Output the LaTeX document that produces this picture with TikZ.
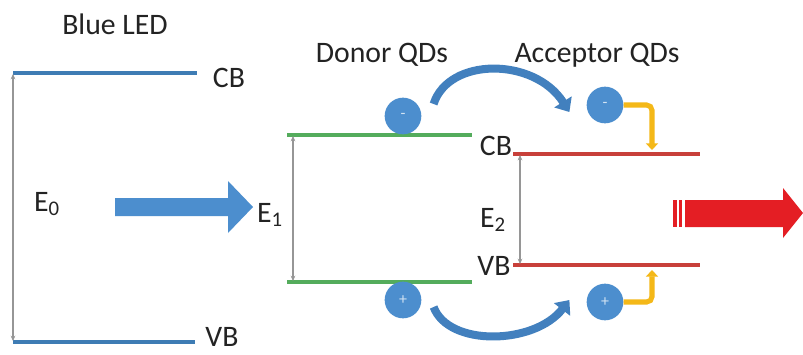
\documentclass[tikz,border=0pt]{standalone}
\usepackage{fontspec}
\setmainfont{Carlito}
\usetikzlibrary{arrows.meta}
\definecolor{ledblue}{RGB}{62,124,180}
\definecolor{qdblue}{RGB}{76,142,206}
\definecolor{hopblue}{RGB}{66,128,190}
\definecolor{donorgreen}{RGB}{84,172,92}
\definecolor{acceptred}{RGB}{200,64,58}
\definecolor{emitred}{RGB}{228,30,36}
\definecolor{relaxyellow}{RGB}{244,184,24}
\definecolor{gapgray}{RGB}{150,150,150}
\definecolor{txtgray}{RGB}{35,35,35}
\tikzstyle{txt} = [inner sep=0pt, anchor=base, text=txtgray, font=\fontsize{22.3}{26}\selectfont]
\tikzstyle{carrier} = [circle, fill=qdblue, minimum size=27.5pt, inner sep=0pt, text=white!75!qdblue, font=\fontsize{12}{12}\selectfont]
\tikzstyle{band} = [line width=2.4pt]
\tikzstyle{gap} = [gapgray, line width=0.8pt, {Stealth[length=4pt,width=3.5pt]}-{Stealth[length=4pt,width=3.5pt]}]
\tikzstyle{hop} = [hopblue, line width=6pt, -{Triangle[width=15pt,length=9pt]}]
\tikzstyle{relax} = [relaxyellow, line width=3.8pt, rounded corners=4pt, -{Triangle[width=9pt,length=5pt]}]

\begin{document}
\begin{tikzpicture}[x=0.75pt, y=-0.75pt]
\path[use as bounding box, fill=white] (0,0) rectangle (803,354);

% band edges
\coordinate (cb0l) at (13,73);
\coordinate (cb0r) at (197,73);
\coordinate (vb0l) at (13,342);
\coordinate (vb0r) at (195,342);
\coordinate (cb1l) at (287,135);
\coordinate (cb1r) at (472,135);
\coordinate (vb1l) at (287,282);
\coordinate (vb1r) at (472,282);
\coordinate (cb2l) at (513,154);
\coordinate (cb2r) at (700,154);
\coordinate (vb2l) at (513,265);
\coordinate (vb2r) at (700,265);

\draw [band, ledblue] (cb0l) -- (cb0r);
\draw [band, ledblue] (vb0l) -- (vb0r);
\draw [band, donorgreen] (cb1l) -- (cb1r);
\draw [band, donorgreen] (vb1l) -- (vb1r);
\draw [band, acceptred] (cb2l) -- (cb2r);
\draw [band, acceptred] (vb2l) -- (vb2r);

% gaps
\coordinate (g0t) at (13,74);
\coordinate (g0b) at (13,341);
\coordinate (g1t) at (293,136);
\coordinate (g1b) at (293,281);
\coordinate (g2t) at (520,155);
\coordinate (g2b) at (520,264);
\draw [gap] (g0t) -- (g0b);
\draw [gap] (g1t) -- (g1b);
\draw [gap] (g2t) -- (g2b);

% texts
\node (led) [txt] at (115,34) {Blue LED};
\node (donor) [txt] at (382,62) {Donor QDs};
\node (acceptor) [txt] at (597,62) {Acceptor QDs};
\node (cb0) [txt] at (229,87) {CB};
\node (vb0) [txt] at (222,346) {VB};
\node (cb2) [txt] at (496,155) {CB};
\node (vb2) [txt] at (494,275) {VB};
\node (e0) [txt] at (47,211) {E\textsubscript{0}};
\node (e1) [txt] at (270,222) {E\textsubscript{1}};
\node (e2) [txt] at (493,227) {E\textsubscript{2}};

% pump and emission
\fill [qdblue] (115,198) -- (228,198) -- (228,181) -- (253,207) -- (228,233) -- (228,216) -- (115,216) -- cycle;
\fill [emitred] (685,200) -- (783,200) -- (783,188) -- (803,213) -- (783,238) -- (783,227) -- (685,227) -- cycle;
\fill [emitred] (673,200) rectangle (677,227);
\fill [emitred] (679,200) rectangle (682,227);

% carriers
\node (dminus) [carrier] at (403,116) {-};
\node (dplus) [carrier] at (403,300) {+};
\node (aminus) [carrier] at (605,105) {-};
\node (aplus) [carrier] at (605,302) {+};

% transfer
\draw [hop] ([shift={(12,-12)}]dminus.east) .. controls +(15,-47) and +(-35,-55) .. ([shift={(-17,7)}]aminus.west);
\draw [hop] ([shift={(12,7)}]dplus.east) .. controls +(15,40) and +(-35,45) .. ([shift={(-17,-2)}]aplus.west);

% relaxation
\coordinate (trapc) at (652,150);
\coordinate (trapv) at (652,270);
\draw [relax] (aminus) -| (trapc);
\draw [relax] (aplus) -| (trapv);

\end{tikzpicture}
\end{document}
